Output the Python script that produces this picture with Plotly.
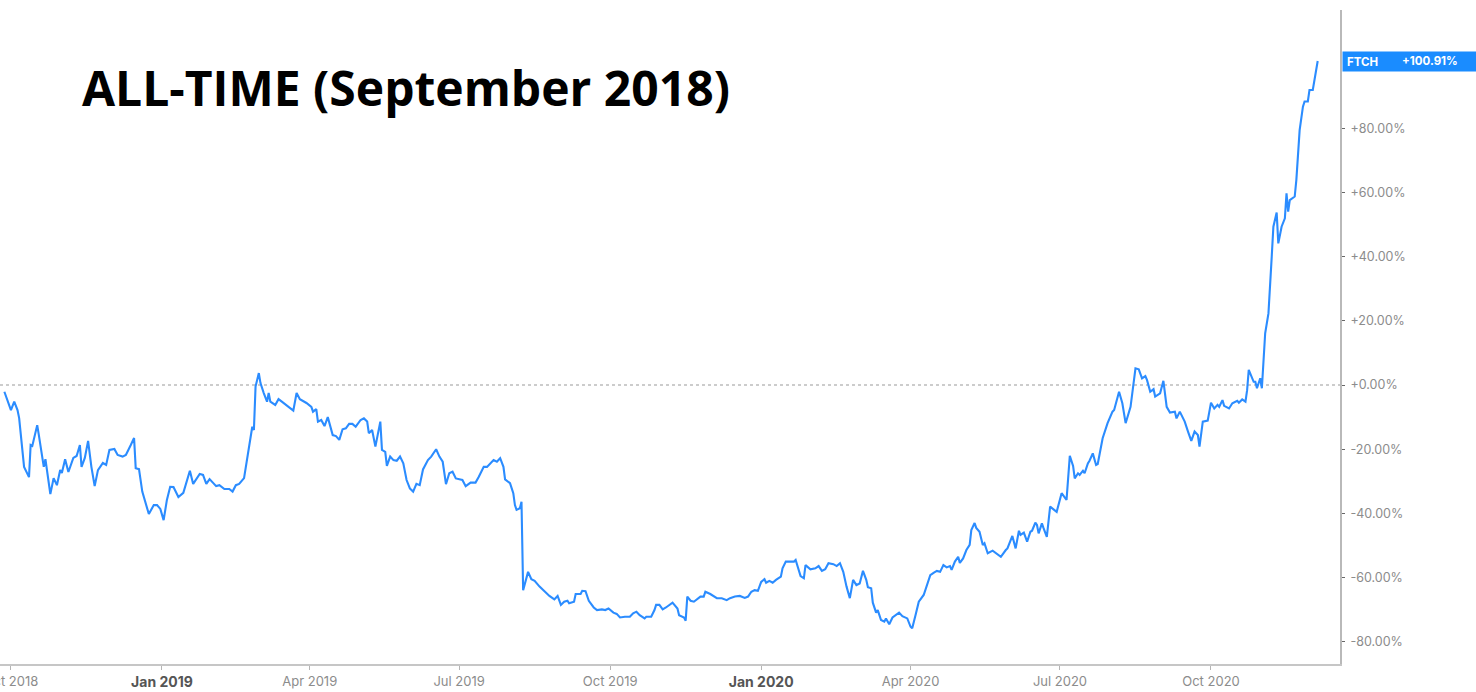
import plotly.graph_objects as go

# FTCH cumulative return since listing, in percent
dates = [
    "2018-09-27", "2018-09-29", "2018-10-01", "2018-10-03", "2018-10-05", "2018-10-06", "2018-10-09", "2018-10-12",
    "2018-10-13", "2018-10-14", "2018-10-17", "2018-10-18", "2018-10-21", "2018-10-22", "2018-10-25", "2018-10-27",
    "2018-10-29", "2018-10-31", "2018-11-01", "2018-11-03", "2018-11-05", "2018-11-08", "2018-11-10", "2018-11-12",
    "2018-11-13", "2018-11-15", "2018-11-17", "2018-11-19", "2018-11-21", "2018-11-23", "2018-11-26", "2018-11-28",
    "2018-11-30", "2018-12-03", "2018-12-05", "2018-12-08", "2018-12-10", "2018-12-13", "2018-12-15", "2018-12-16",
    "2018-12-18", "2018-12-20", "2018-12-24", "2018-12-27", "2018-12-29", "2018-12-31", "2019-01-02", "2019-01-04",
    "2019-01-06", "2019-01-08", "2019-01-11", "2019-01-14", "2019-01-18", "2019-01-20", "2019-01-24", "2019-01-26",
    "2019-01-28", "2019-01-30", "2019-02-03", "2019-02-05", "2019-02-08", "2019-02-11", "2019-02-13", "2019-02-15",
    "2019-02-17", "2019-02-20", "2019-02-23", "2019-02-25", "2019-02-26", "2019-02-27", "2019-03-01", "2019-03-02",
    "2019-03-04", "2019-03-06", "2019-03-07", "2019-03-08", "2019-03-11", "2019-03-13", "2019-03-15", "2019-03-18",
    "2019-03-22", "2019-03-24", "2019-03-26", "2019-03-30", "2019-04-02", "2019-04-03", "2019-04-05", "2019-04-06",
    "2019-04-08", "2019-04-10", "2019-04-12", "2019-04-15", "2019-04-17", "2019-04-19", "2019-04-21", "2019-04-23",
    "2019-04-25", "2019-04-27", "2019-04-29", "2019-05-02", "2019-05-04", "2019-05-06", "2019-05-07", "2019-05-09",
    "2019-05-11", "2019-05-14", "2019-05-15", "2019-05-17", "2019-05-18", "2019-05-20", "2019-05-22", "2019-05-24",
    "2019-05-26", "2019-05-28", "2019-05-30", "2019-06-01", "2019-06-03", "2019-06-05", "2019-06-07", "2019-06-09",
    "2019-06-12", "2019-06-14", "2019-06-17", "2019-06-19", "2019-06-21", "2019-06-23", "2019-06-25", "2019-06-27",
    "2019-06-29", "2019-07-03", "2019-07-05", "2019-07-08", "2019-07-11", "2019-07-13", "2019-07-16", "2019-07-18",
    "2019-07-20", "2019-07-22", "2019-07-24", "2019-07-26", "2019-07-28", "2019-07-29", "2019-08-01", "2019-08-03",
    "2019-08-04", "2019-08-05", "2019-08-07", "2019-08-08", "2019-08-09", "2019-08-11", "2019-08-12", "2019-08-14",
    "2019-08-16", "2019-08-19", "2019-08-22", "2019-08-25", "2019-08-28", "2019-08-30", "2019-09-01", "2019-09-03",
    "2019-09-05", "2019-09-06", "2019-09-09", "2019-09-10", "2019-09-13", "2019-09-14", "2019-09-16", "2019-09-18",
    "2019-09-21", "2019-09-23", "2019-09-26", "2019-09-28", "2019-09-30", "2019-10-03", "2019-10-05", "2019-10-07",
    "2019-10-10", "2019-10-13", "2019-10-15", "2019-10-17", "2019-10-19", "2019-10-22", "2019-10-23", "2019-10-26",
    "2019-10-28", "2019-10-29", "2019-10-31", "2019-11-02", "2019-11-04", "2019-11-08", "2019-11-11", "2019-11-12",
    "2019-11-15", "2019-11-16", "2019-11-17", "2019-11-19", "2019-11-21", "2019-11-23", "2019-11-25", "2019-11-27",
    "2019-11-28", "2019-12-01", "2019-12-05", "2019-12-08", "2019-12-11", "2019-12-13", "2019-12-16", "2019-12-19",
    "2019-12-22", "2019-12-24", "2019-12-26", "2019-12-28", "2019-12-30", "2020-01-01", "2020-01-03", "2020-01-04",
    "2020-01-06", "2020-01-08", "2020-01-10", "2020-01-13", "2020-01-14", "2020-01-16", "2020-01-19", "2020-01-21",
    "2020-01-22", "2020-01-23", "2020-01-25", "2020-01-27", "2020-01-28", "2020-01-31", "2020-02-03", "2020-02-05",
    "2020-02-07", "2020-02-09", "2020-02-11", "2020-02-14", "2020-02-16", "2020-02-18", "2020-02-20", "2020-02-22",
    "2020-02-24", "2020-02-26", "2020-02-28", "2020-03-01", "2020-03-03", "2020-03-05", "2020-03-06", "2020-03-08",
    "2020-03-09", "2020-03-11", "2020-03-12", "2020-03-14", "2020-03-16", "2020-03-17", "2020-03-19", "2020-03-21",
    "2020-03-23", "2020-03-25", "2020-03-27", "2020-03-30", "2020-04-01", "2020-04-02", "2020-04-04", "2020-04-06",
    "2020-04-09", "2020-04-11", "2020-04-13", "2020-04-15", "2020-04-17", "2020-04-19", "2020-04-21", "2020-04-23",
    "2020-04-25", "2020-04-26", "2020-04-28", "2020-04-30", "2020-05-01", "2020-05-03", "2020-05-05", "2020-05-07",
    "2020-05-08", "2020-05-10", "2020-05-11", "2020-05-13", "2020-05-15", "2020-05-16", "2020-05-18", "2020-05-21",
    "2020-05-23", "2020-05-26", "2020-05-29", "2020-05-30", "2020-06-02", "2020-06-04", "2020-06-06", "2020-06-07",
    "2020-06-09", "2020-06-11", "2020-06-13", "2020-06-14", "2020-06-16", "2020-06-17", "2020-06-18", "2020-06-20",
    "2020-06-21", "2020-06-23", "2020-06-25", "2020-06-27", "2020-06-29", "2020-07-02", "2020-07-03", "2020-07-05",
    "2020-07-07", "2020-07-09", "2020-07-10", "2020-07-12", "2020-07-13", "2020-07-15", "2020-07-16", "2020-07-18",
    "2020-07-19", "2020-07-21", "2020-07-23", "2020-07-24", "2020-07-27", "2020-07-30", "2020-08-02", "2020-08-03",
    "2020-08-06", "2020-08-08", "2020-08-10", "2020-08-12", "2020-08-13", "2020-08-16", "2020-08-18", "2020-08-20",
    "2020-08-22", "2020-08-23", "2020-08-25", "2020-08-27", "2020-08-28", "2020-08-31", "2020-09-02", "2020-09-04",
    "2020-09-06", "2020-09-09", "2020-09-10", "2020-09-12", "2020-09-15", "2020-09-17", "2020-09-19", "2020-09-21",
    "2020-09-23", "2020-09-24", "2020-09-26", "2020-09-29", "2020-10-01", "2020-10-03", "2020-10-05", "2020-10-06",
    "2020-10-08", "2020-10-09", "2020-10-12", "2020-10-14", "2020-10-17", "2020-10-18", "2020-10-20", "2020-10-22",
    "2020-10-23", "2020-10-24", "2020-10-27", "2020-10-28", "2020-10-29", "2020-10-31", "2020-11-01", "2020-11-03",
    "2020-11-05", "2020-11-07", "2020-11-08", "2020-11-10", "2020-11-11", "2020-11-13", "2020-11-15", "2020-11-16",
    "2020-11-17", "2020-11-18", "2020-11-21", "2020-11-22", "2020-11-24", "2020-11-26", "2020-11-27", "2020-11-29",
    "2020-11-30", "2020-12-02", "2020-12-03", "2020-12-05",
]

returns_pct = [
    -2.1, -4.7, -7.8, -5.2, -7.8, -10.3, -25.5, -28.7,
    -18.7, -19.0, -12.5, -15.6, -25.5, -23.1, -34.0, -29.0,
    -31.2, -26.5, -27.4, -23.1, -27.1, -22.7, -22.1, -18.7,
    -25.5, -22.7, -17.4, -25.5, -31.5, -26.5, -24.3, -24.9,
    -20.2, -19.9, -21.8, -22.3, -21.8, -18.7, -16.5, -25.9,
    -26.2, -33.2, -40.2, -37.4, -37.4, -38.6, -42.1, -35.8,
    -31.7, -31.8, -34.9, -33.6, -26.7, -30.8, -27.7, -28.0,
    -30.8, -29.3, -31.5, -31.2, -32.4, -32.4, -33.2, -31.2,
    -30.8, -29.0, -19.2, -13.0, -14.0, -0.5, 3.7, 0.6,
    -2.5, -5.2, -2.5, -5.2, -6.2, -4.4, -5.2, -6.5,
    -8.0, -2.5, -4.4, -5.6, -6.8, -8.3, -7.5, -11.4,
    -10.9, -12.8, -10.0, -15.6, -15.9, -17.1, -13.8, -13.5,
    -12.1, -12.1, -13.0, -10.9, -10.4, -11.4, -15.0, -14.0,
    -19.2, -11.4, -20.2, -20.8, -25.2, -22.3, -23.4, -23.6,
    -22.3, -24.4, -29.6, -32.2, -33.2, -30.8, -31.2, -26.3,
    -23.4, -22.3, -20.0, -22.3, -23.9, -30.9, -27.5, -27.0,
    -29.1, -29.6, -31.5, -30.4, -30.4, -28.6, -25.5, -25.5,
    -24.4, -23.4, -23.9, -22.8, -25.5, -29.4, -30.6, -33.7,
    -37.4, -38.9, -38.4, -36.4, -63.9, -59.7, -58.2, -60.5,
    -61.0, -62.8, -64.4, -65.7, -66.8, -65.7, -68.5, -67.5,
    -67.2, -68.0, -67.5, -65.1, -65.1, -64.1, -64.2, -67.2,
    -69.3, -70.1, -69.9, -70.1, -69.6, -70.9, -71.3, -72.4,
    -72.2, -72.2, -71.1, -70.6, -71.7, -72.7, -72.2, -72.2,
    -70.1, -68.5, -68.5, -69.9, -69.3, -67.8, -69.6, -71.7,
    -72.4, -73.4, -65.9, -67.2, -67.5, -66.8, -65.9, -65.9,
    -64.4, -65.1, -66.4, -66.4, -67.0, -66.4, -65.9, -65.7,
    -66.3, -65.9, -64.4, -63.9, -64.1, -61.3, -60.5, -61.6,
    -61.0, -61.6, -60.7, -59.7, -57.1, -55.0, -55.0, -55.0,
    -54.5, -56.4, -59.5, -60.2, -56.1, -57.4, -57.1, -56.4,
    -57.9, -57.4, -55.5, -55.8, -56.4, -55.5, -58.2, -62.8,
    -66.4, -60.7, -62.3, -61.8, -57.9, -60.7, -63.0, -63.3,
    -67.8, -70.9, -70.1, -73.2, -73.7, -72.7, -74.5, -72.4,
    -71.7, -70.9, -72.0, -72.7, -75.3, -75.8, -71.7, -67.5,
    -65.4, -62.6, -59.2, -58.5, -57.9, -58.2, -56.1, -56.8,
    -56.4, -57.6, -55.0, -53.5, -55.4, -54.0, -51.4, -49.8,
    -45.2, -43.0, -44.5, -45.7, -49.8, -49.3, -52.4, -51.6,
    -52.4, -53.5, -51.4, -50.9, -47.0, -50.9, -45.4, -46.7,
    -46.0, -48.8, -45.7, -45.4, -42.9, -43.6, -46.2, -43.1,
    -44.6, -47.3, -37.9, -38.7, -39.5, -33.7, -34.3, -35.8,
    -22.1, -25.2, -29.1, -27.5, -28.0, -26.7, -27.5, -24.4,
    -23.6, -21.3, -24.9, -24.6, -16.6, -11.9, -8.3, -7.8,
    -2.1, -5.7, -11.9, -8.3, -6.8, 5.2, 4.9, 2.1,
    2.8, 1.6, -2.1, -1.3, -3.6, -2.6, 1.3, -6.8,
    -8.6, -8.3, -10.4, -8.3, -11.4, -14.5, -17.4, -14.5,
    -15.6, -19.2, -11.4, -11.1, -5.5, -7.3, -6.2, -6.8,
    -4.7, -6.5, -7.3, -5.7, -4.9, -5.5, -4.5, -5.2,
    -1.6, 4.7, 1.0, 1.0, -1.0, 2.1, -1.0, 16.1,
    22.3, 40.0, 49.3, 53.7, 44.1, 49.3, 51.9, 59.7,
    54.0, 57.6, 58.7, 63.9, 79.4, 86.7, 88.3, 88.3,
    91.9, 91.9, 95.0, 100.91,
]

ticker = "FTCH"
title_text = "ALL-TIME (September 2018)"

# Axis ticks
x_tick_dates = ["2018-10-01", "2019-01-01", "2019-04-01", "2019-07-01", "2019-10-01",
                "2020-01-01", "2020-04-01", "2020-07-01", "2020-10-01"]
x_tick_labels = ["Oct 2018", "Jan 2019", "Apr 2019", "Jul 2019", "Oct 2019",
                 "Jan 2020", "Apr 2020", "Jul 2020", "Oct 2020"]
y_tick_values = [80, 60, 40, 20, 0, -20, -40, -60, -80]
y_tick_labels = ["+80.00%", "+60.00%", "+40.00%", "+20.00%", "+0.00%",
                 "-20.00%", "-40.00%", "-60.00%", "-80.00%"]

x_range = ["2018-09-24 08:00", "2020-12-18 14:00"]
y_range = [-86.9, 116.8]

LINE_BLUE = "#2b8cff"
TICK_GREY = "#8c8c8c"
FONT = "Inter"

# year-start labels are drawn bold on an overlaid axis
year_start = [lbl.startswith("Jan") for lbl in x_tick_labels]
main_text = ["" if ys else lbl for ys, lbl in zip(year_start, x_tick_labels)]
jan_vals = [d for ys, d in zip(year_start, x_tick_dates) if ys]
jan_text = [lbl for ys, lbl in zip(year_start, x_tick_labels) if ys]

fig = go.Figure()
fig.add_trace(go.Scatter(
    x=dates, y=returns_pct, mode="lines",
    line=dict(color=LINE_BLUE, width=2.1),
    showlegend=False, hoverinfo="skip",
))
fig.add_trace(go.Scatter(x=[], y=[], xaxis="x2", showlegend=False, hoverinfo="skip"))

# dotted break-even line
fig.add_shape(type="line", xref="paper", yref="y", x0=0, x1=1, y0=0, y1=0,
              line=dict(color="#9a9a9a", width=1.2, dash="dot"), layer="below")

last_val = returns_pct[-1]
fig.add_annotation(
    xref="paper", yref="y", x=1.0017, y=last_val, xanchor="left", yanchor="middle",
    text=f"<b>{ticker}</b>", showarrow=False, align="left",
    width=125, height=11, borderpad=4, bgcolor="#1a8cff",
    font=dict(family=FONT, size=11.5, color="white"),
)
fig.add_annotation(
    xref="paper", yref="y", x=1.0895, y=last_val, xanchor="right", yanchor="middle",
    text=f"<b>{last_val:+.2f}%</b>", showarrow=False,
    font=dict(family=FONT, size=11.5, color="white"),
)

fig.add_annotation(
    xref="paper", yref="paper", x=0.0597, y=0.881, xanchor="left", yanchor="middle",
    text=f"<b>{title_text}</b>", showarrow=False,
    font=dict(family="Open Sans", size=48, color="black"),
)

fig.update_layout(
    width=1476, height=692,
    margin=dict(l=0, r=136, t=10, b=28, autoexpand=False),
    paper_bgcolor="white", plot_bgcolor="white",
    xaxis=dict(
        type="date", range=x_range, tickvals=x_tick_dates, ticktext=main_text,
        showgrid=False, zeroline=False, showline=True, linecolor="#c6c6c6", linewidth=2,
        ticks="outside", ticklen=4, tickcolor="#b5b5b5", tickwidth=1,
        tickfont=dict(family=FONT, size=13, color=TICK_GREY),
        ticklabeloverflow="allow", automargin=False,
    ),
    xaxis2=dict(
        type="date", range=x_range, overlaying="x", anchor="y", side="bottom",
        tickvals=jan_vals, ticktext=jan_text,
        showgrid=False, zeroline=False, showline=False, ticks="",
        tickfont=dict(family=FONT, size=14, color="#555555", weight="bold"),
        ticklabelstandoff=8, automargin=False,
    ),
    yaxis=dict(
        side="right", range=y_range, tickvals=y_tick_values, ticktext=y_tick_labels,
        showgrid=False, zeroline=False, showline=True, linecolor="#b9b9b9", linewidth=2,
        ticks="outside", ticklen=3, tickcolor="#666666", tickwidth=1,
        tickfont=dict(family=FONT, size=12.5, color=TICK_GREY),
        ticklabelstandoff=3, automargin=False,
    ),
)

fig.write_html("out.html")
